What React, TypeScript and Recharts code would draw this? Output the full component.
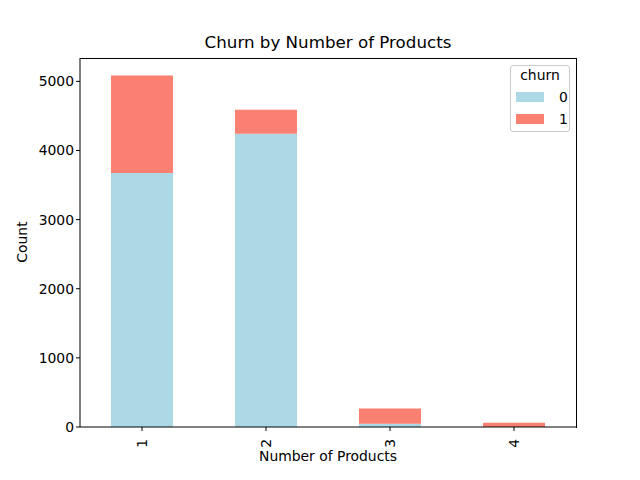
import React from 'react';
import { BarChart, Bar, XAxis, YAxis } from 'recharts';

const products = ['1', '2', '3', '4'];
const stayed = [3675, 4242, 46, 0];
const churned = [1409, 348, 220, 60];
const yTicks = [0, 1000, 2000, 3000, 4000, 5000];

const data = products.map((p, i) => ({ name: p, c0: stayed[i], c1: churned[i] }));

const FONT = 'DejaVu Sans, sans-serif';
const BLUE = '#ADD8E6';
const SALMON = '#FA8072';
const FS = 13.9;

function RotatedTick(props: any) {
  const { x, y, payload } = props;
  return (
    <text
      transform={`translate(${x},${y + 6}) rotate(-90)`}
      textAnchor="end"
      dominantBaseline="central"
      fontSize={FS}
      fontFamily={FONT}
      fill="#000"
    >
      {payload.value}
    </text>
  );
}

export default function App() {
  return (
    <div style={{ position: 'absolute', left: 0, top: 0, width: 640, height: 480, background: '#fff', fontFamily: FONT }}>
      <BarChart
        width={640}
        height={480}
        data={data}
        margin={{ top: 58, right: 64, bottom: 13, left: 20 }}
        barCategoryGap="25%"
      >
        <XAxis
          dataKey="name"
          height={40}
          tick={<RotatedTick />}
          tickLine={{ stroke: '#000' }}
          tickSize={4}
          axisLine={{ stroke: '#000' }}
          interval={0}
        />
        <YAxis
          width={60}
          domain={[0, 5338]}
          ticks={yTicks}
          tick={{ fill: '#000', fontSize: FS, fontFamily: FONT }}
          tickLine={{ stroke: '#000' }}
          tickSize={4}
          axisLine={{ stroke: '#000' }}
          allowDataOverflow
        />
        <Bar dataKey="c0" stackId="a" fill={BLUE} isAnimationActive={false} />
        <Bar dataKey="c1" stackId="a" fill={SALMON} isAnimationActive={false} />
      </BarChart>

      {/* plot frame (matplotlib draws all four spines) */}
      <div
        style={{
          position: 'absolute',
          left: 80,
          top: 58,
          width: 497,
          height: 370,
          borderTop: '1px solid #000',
          borderRight: '1px solid #000',
          boxSizing: 'border-box',
          pointerEvents: 'none',
        }}
      />

      {/* Title and axis labels */}
      <div style={{ position: 'absolute', left: 80, width: 496, top: 32, textAlign: 'center', fontSize: 16.7 }}>
        Churn by Number of Products
      </div>
      <div style={{ position: 'absolute', left: 80, width: 496, top: 448, textAlign: 'center', fontSize: FS }}>
        Number of Products
      </div>
      <div
        style={{
          position: 'absolute',
          left: 22,
          top: 242,
          fontSize: FS,
          transform: 'translate(-50%, -50%) rotate(-90deg)',
          whiteSpace: 'nowrap',
        }}
      >
        Count
      </div>

      {/* Legend */}
      <div
        style={{
          position: 'absolute',
          left: 510,
          top: 65,
          width: 60,
          height: 67,
          border: '1px solid #ccc',
          borderRadius: 3,
          background: 'rgba(255,255,255,0.8)',
          fontSize: FS,
          boxSizing: 'border-box',
        }}
      >
        <div style={{ position: 'absolute', top: 1, width: '100%', textAlign: 'center' }}>churn</div>
        {[
          { label: '0', color: BLUE, top: 24 },
          { label: '1', color: SALMON, top: 46 },
        ].map((e) => (
          <div key={e.label} style={{ position: 'absolute', top: e.top, left: 5, height: 14, display: 'flex', alignItems: 'center' }}>
            <div style={{ width: 28, height: 10, background: e.color }} />
            <span style={{ marginLeft: 15, lineHeight: '14px' }}>{e.label}</span>
          </div>
        ))}
      </div>
    </div>
  );
}
